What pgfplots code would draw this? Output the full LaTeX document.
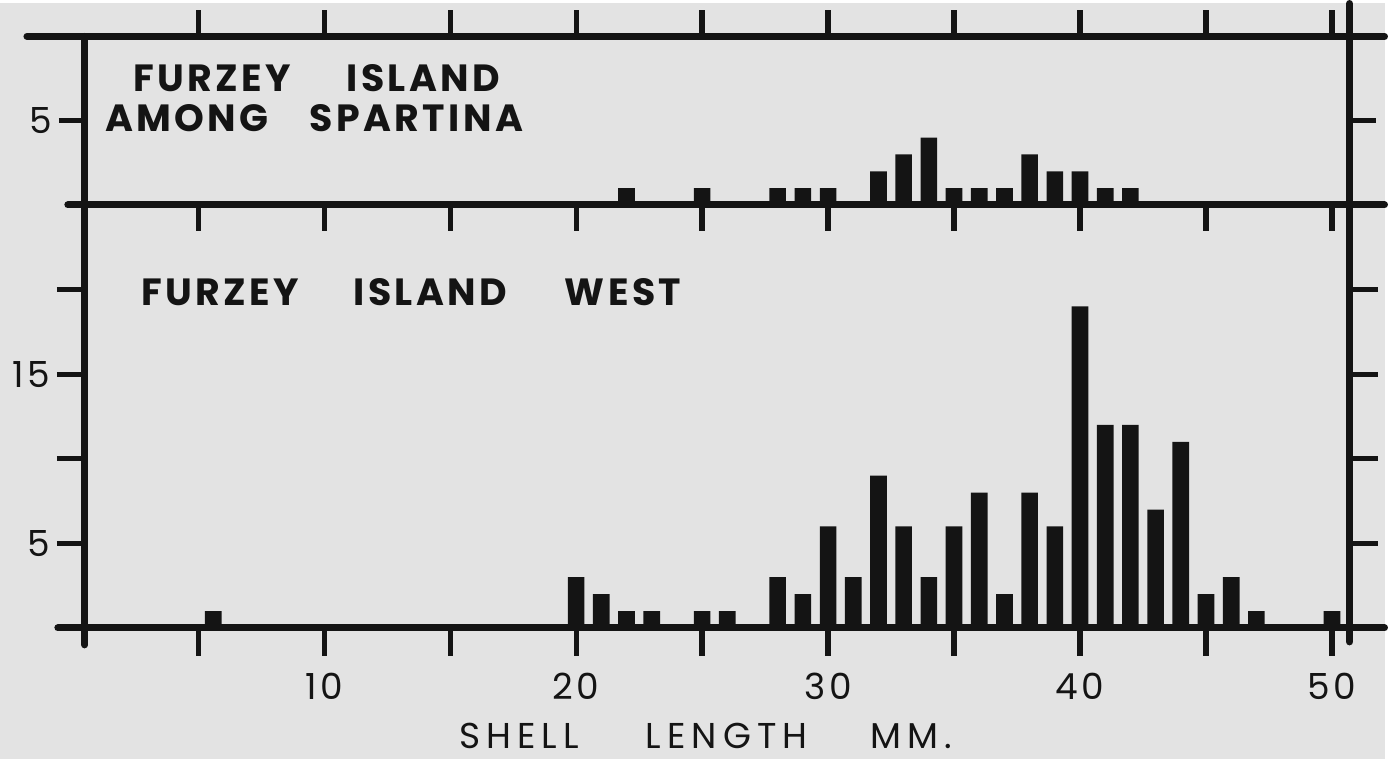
\documentclass[border=0pt]{standalone}
\usepackage{fontspec}
\setmainfont{Poppins}
\usepackage{pgfplots}
\pgfplotsset{compat=1.18}
\definecolor{paper}{gray}{0.89}
\definecolor{ink}{gray}{0.08}

\pgfplotsset{
  furzey/.style={
    scale only axis, width=634pt,
    xmin=0.5, xmax=50.7, ymin=0,
    axis line style={line width=3.5pt, ink},
    every tick/.style={ink, line width=2.6pt},
    tick align=outside,
    major tick length=13pt,
    ybar, bar width=0.66, bar shift=0pt,
    ticklabel style={font=\fontsize{18}{18}\selectfont\addfontfeatures{LetterSpace=10}, text=ink},
    xticklabel style={yshift=-5pt},
    xtick={5,10,...,50},
    ytick pos=both, yticklabel pos=left,
  },
}

\begin{document}
\begin{tikzpicture}
\fill[paper] (0,0) rectangle (694pt,-378.5pt);

% among Spartina
\begin{axis}[furzey, at={(42.5pt,-101pt)}, anchor=south west,
  height=84.5pt, ymax=10, ytick={5}, yticklabels={5},
  xtick pos=both, xticklabels={}]
\addplot[fill=ink, draw=none] coordinates {
  (22,1) (25,1) (28,1) (29,1) (30,1) (32,2) (33,3) (34,4)
  (35,1) (36,1) (37,1) (38,3) (39,2) (40,2) (41,1) (42,1)};
\end{axis}

% west
\begin{axis}[furzey, at={(42.5pt,-313pt)}, anchor=south west,
  height=212pt, ymax=25, ytick={5,10,15,20}, yticklabels={5,,15,},
  xtick pos=bottom, major tick length=14pt,
  xticklabels={,10,,20,,30,,40,,50}]
\addplot[fill=ink, draw=none] coordinates {
  (5.6,1) (20,3) (21,2) (22,1) (23,1) (25,1) (26,1) (28,3) (29,2)
  (30,6) (31,3) (32,9) (33,6) (34,3) (35,6) (36,8) (37,2) (38,8)
  (39,6) (40,19) (41,12) (42,12) (43,7) (44,11) (45,2) (46,3)
  (47,1) (50,1)};
\end{axis}

% frame lines running past the axes
\draw[ink, line width=3.5pt, line cap=round]
  (13.5pt,-16.5pt) -- (694pt,-16.5pt)
  (34pt,-101pt) -- (694pt,-101pt)
  (29pt,-313pt) -- (694pt,-313pt)
  (42.5pt,-16.5pt) -- (42.5pt,-321.5pt)
  (676.5pt,0pt) -- (676.5pt,-320pt);

\begin{scope}[every node/.style={inner sep=0pt, anchor=base west, text=ink,
    font=\bfseries\fontsize{19}{21}\selectfont\addfontfeatures{LetterSpace=9}}]
\node at (66.5pt,-44pt) {FURZEY};
\node at (173.5pt,-44pt) {ISLAND};
\node at (52.5pt,-64pt) {AMONG};
\node at (155pt,-64pt) {SPARTINA};
\node at (70.5pt,-151.5pt) {FURZEY};
\node at (177pt,-151.5pt) {ISLAND};
\node at (283pt,-151.5pt) {WEST};
\end{scope}

\begin{scope}[every node/.style={inner sep=0pt, anchor=base west, text=ink,
    font=\fontsize{18}{20}\selectfont\addfontfeatures{LetterSpace=17}}]
\node at (230pt,-373.5pt) {SHELL};
\node at (323.5pt,-373.5pt) {LENGTH};
\node at (436pt,-373.5pt) {MM.};
\end{scope}
\end{tikzpicture}
\end{document}
